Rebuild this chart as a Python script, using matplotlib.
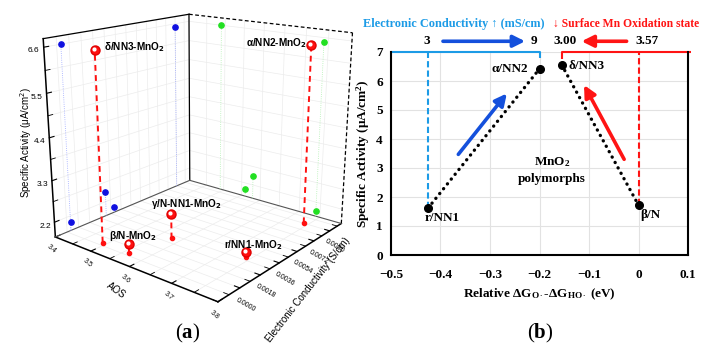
import numpy as np
import matplotlib
matplotlib.use('Agg')
import matplotlib.pyplot as plt
from matplotlib.ticker import AutoMinorLocator, FormatStrFormatter
from matplotlib.transforms import offset_copy

# ---------------- data : panel (a) ----------------
samples_a = ['δ/NN3-MnO$_\\mathbf{2}$', 'α/NN2-MnO$_\\mathbf{2}$', 'γ/N-NN1-MnO$_\\mathbf{2}$',
             'β/N-MnO$_\\mathbf{2}$', 'r/NN1-MnO$_\\mathbf{2}$']
aos = [3.49, 3.74, 3.58, 3.56, 3.74]
conductivity = [-0.0006, 0.0090, 0.0023, -0.0006, 0.0030]
activity_a = [6.60, 6.50, 2.46, 2.02, 1.94]
aos_ticks = [3.4, 3.5, 3.6, 3.7, 3.8]
cond_ticks = [0.0000, 0.0018, 0.0036, 0.0054, 0.0072, 0.0090]
act_ticks = [2.2, 3.3, 4.4, 5.5, 6.6]
aos_lim = (3.4, 3.8)
cond_lim = (-0.0018, 0.0104)
act_lim = (1.8, 6.8)

# ---------------- data : panel (b) ----------------
samples_b = ['r/NN1', 'α/NN2', 'δ/NN3', 'β/N']
dG = [-0.425, -0.200, -0.155, 0.000]
activity_b = [1.62, 6.42, 6.55, 1.72]
top_cond_labels = ['3', '9']          # mS/cm  (r/NN1, α/NN2)
top_ox_labels = ['3.00', '3.57']      # Mn oxidation state (δ/NN3, β/N)
xticks_b = [-0.5, -0.4, -0.3, -0.2, -0.1, 0.0, 0.1]
xticklabels_b = ['\u22120.5', '\u22120.4', '\u22120.3', '\u22120.2', '\u22120.1', '0', '0.1']
yticks_b = [0, 1, 2, 3, 4, 5, 6, 7]

plt.rcParams['mathtext.fontset'] = 'custom'
plt.rcParams['mathtext.rm'] = 'Liberation Serif'
plt.rcParams['mathtext.bf'] = 'Liberation Serif:bold'
plt.rcParams['mathtext.it'] = 'Liberation Serif:italic'

SANS = ['Liberation Sans', 'DejaVu Sans']
SERIF = ['Liberation Serif', 'DejaVu Serif']

fig = plt.figure(figsize=(7.02, 3.58), dpi=100)

# ======================= panel (a) : 3D =======================
ax = fig.add_axes([0.0, 0.115, 0.56, 0.98], projection='3d')
ax.set_proj_type('persp', focal_length=0.4)
ax.view_init(elev=17, azim=-51)
ax.set_box_aspect((1.0, 1.02, 0.97), zoom=1.0)
ax.set_xlim(*aos_lim)
ax.set_ylim(*cond_lim)
ax.set_zlim(*act_lim)

for axis in (ax.xaxis, ax.yaxis, ax.zaxis):
    axis.set_pane_color((1, 1, 1, 1))
    axis.pane.set_edgecolor('none')
    axis.line.set_color('black')
    axis.line.set_linewidth(1.1)
    axis._axinfo['grid'].update(color='#ececec', linewidth=0.5)
    axis._axinfo['tick']['inward_factor'] = 0.0
    axis._axinfo['tick']['outward_factor'] = 0.35
ax.zaxis.set_ticks_position('lower')
ax.zaxis.set_label_position('lower')

ax.set_xticks(aos_ticks)
ax.set_yticks(cond_ticks)
ax.set_zticks(act_ticks)
ax.yaxis.set_major_formatter(FormatStrFormatter('%.4f'))
ax.xaxis.set_major_formatter(FormatStrFormatter('%.1f'))
ax.zaxis.set_major_formatter(FormatStrFormatter('%.1f'))
for axis in (ax.xaxis, ax.yaxis, ax.zaxis):
    axis.set_minor_locator(AutoMinorLocator(2))

ax.tick_params(axis='x', labelsize=5, pad=-5, labelrotation=-40)
ax.tick_params(axis='y', labelsize=5, pad=-4, labelrotation=-30)
ax.tick_params(axis='z', labelsize=6, pad=-4)
ax.tick_params(axis='both', which='minor', labelbottom=False, labelleft=False,
               labeltop=False, labelright=False)
for lab in ax.get_xticklabels() + ax.get_yticklabels() + ax.get_zticklabels():
    lab.set_family(SANS)

ax.zaxis.set_rotate_label(False)
ax.xaxis.set_rotate_label(False)
ax.yaxis.set_rotate_label(False)
ax.set_zlabel('Specific Activity (\u03bcA/cm$^2$)', rotation=90, fontsize=7,
              family=SANS, labelpad=-11)
ax.set_xlabel('AOS', rotation=-35, fontsize=7, family=SANS, labelpad=-10)
ax.set_ylabel('Electronic Conductivity (S/cm)', rotation=52, fontsize=7,
              family=SANS, labelpad=-5)
for lab in (ax.xaxis.label, ax.yaxis.label, ax.zaxis.label):
    lab.set_math_fontfamily('dejavusans')

x0, x1 = aos_lim
y0, y1 = cond_lim
z0, z1 = act_lim
# box edges of the back walls
ax.plot([x0, x0], [y0, y1], [z1, z1], color='black', lw=0.9)
ax.plot([x0, x0], [y1, y1], [z0, z1], color='black', lw=0.9)
ax.plot([x0, x1], [y1, y1], [z1, z1], color='black', lw=0.9, ls=(0, (3, 2)))
ax.plot([x1, x1], [y1, y1], [z0, z1], color='black', lw=0.9, ls=(0, (3, 2)))
ax.plot([x0, x0], [y0, y1], [z0, z0], color='#555555', lw=0.8)
ax.plot([x0, x1], [y1, y1], [z0, z0], color='#555555', lw=0.8)

# projections on the walls
for a, c, s in zip(aos, conductivity, activity_a):
    ax.plot([x0, x0], [c, c], [z0, s], color='#9aa6ff', lw=0.6, ls=':')
    ax.plot([x0], [c], [s], marker='o', ms=3.8, color='#1010e0', mec='#1010e0')
    ax.plot([a, a], [y1, y1], [z0, s], color='#b0f0b0', lw=0.6, ls=':')
    ax.plot([a], [y1], [s], marker='o', ms=3.8, color='#22e022', mec='#22e022')

# 3D points with drop lines
for a, c, s in zip(aos, conductivity, activity_a):
    ax.plot([a, a], [c, c], [z0, s], color='#ff1010', lw=1.4, ls=(0, (3, 2.2)))
    ax.plot([a], [c], [z0], marker='o', ms=3, color='#ff1010', mec='#ff1010')
    ax.plot([a], [c], [s], marker='o', ms=6.5, color='#ff1010', mec='#e00000')
    ax.plot([a], [c], [s], marker='o', ms=2, color='white', mec='white',
            transform=offset_copy(ax.transData, fig=fig, x=-0.8, y=0.9, units='points'))

label_offsets = [(7, 2, 'left'), (-3.5, 1, 'right'), (11, 7, 'center'),
                 (3, 6, 'center'), (5, 5, 'center')]
for a, c, s, name, (dx, dy, ha) in zip(aos, conductivity, activity_a, samples_a, label_offsets):
    t = ax.text(a, c, s, name, ha=ha, va='center', fontsize=7.2, fontweight='bold',
                family=SANS,
                transform=offset_copy(ax.transData, fig=fig, x=dx, y=dy, units='points'))
    t.set_math_fontfamily('dejavusans')

# ======================= panel (b) =======================
BLUE_L = '#1c9be6'
BLUE_D = '#1450dc'
RED = '#ff1414'
axb = fig.add_axes([391 / 702, 1 - 255 / 358, (688 - 391) / 702, (255 - 52) / 358])
xlim_b = (-0.5, 0.1)
ylim_b = (0, 7)
axb.set_xlim(*xlim_b)
axb.set_ylim(*ylim_b)
axb.set_xticks(xticks_b)
axb.set_xticklabels(xticklabels_b)
axb.set_yticks(yticks_b)
axb.grid(True, color='#e2e2e2', lw=0.8)
axb.set_axisbelow(True)
axb.spines['top'].set_visible(False)
for sp in ('left', 'bottom', 'right'):
    axb.spines[sp].set_linewidth(1.5)
axb.tick_params(length=0, labelsize=9.5)
axb.tick_params(axis='x', pad=10)
axb.tick_params(axis='y', pad=6)
for lab in axb.get_xticklabels() + axb.get_yticklabels():
    lab.set_family(SERIF)
    lab.set_fontweight('bold')
axb.set_ylabel('Specific Activity (\u03bcA/cm$^{\\mathbf{2}}$)', fontsize=9.5,
               fontweight='bold', family=SERIF, labelpad=3)
axb.set_xlabel('Relative \u0394G$_{\\mathbf{O}\\bullet}$-\u0394G$_{\\mathbf{HO}\\bullet}$ (eV)',
               fontsize=9.5, fontweight='bold', family=SERIF, labelpad=4)

# top brackets
ytop = ylim_b[1]
axb.plot([xlim_b[0], dG[1], dG[1]], [ytop, ytop, ytop - 0.2], color=BLUE_L, lw=1.5,
         clip_on=False, solid_capstyle='butt')
axb.plot([dG[2], dG[2], xlim_b[1] + 0.006], [ytop - 0.25, ytop, ytop], color=RED, lw=1.5,
         clip_on=False, solid_capstyle='butt')
# vertical dashed guides
axb.plot([dG[0], dG[0]], [activity_b[0], ytop], color=BLUE_L, lw=1.5, ls=(0, (3, 1.5)))
axb.plot([dG[3], dG[3]], [activity_b[3], ytop], color=RED, lw=1.5, ls=(0, (3, 1.5)))

# dotted trends
axb.plot(dG[:2], activity_b[:2], color='black', lw=2.4, ls=(0, (0.05, 1.8)),
         dash_capstyle='round')
axb.plot(dG[2:], activity_b[2:], color='black', lw=2.4, ls=(0, (0.05, 1.8)),
         dash_capstyle='round')
axb.plot(dG, activity_b, 'o', color='black', ms=5.5, ls='none', zorder=5)

# point labels
fs = 9.5
axb.text(dG[0] - 0.008, activity_b[0] - 0.33, samples_b[0], ha='left', va='center',
         fontsize=fs, fontweight='bold', family=SERIF)
axb.text(dG[1] - 0.022, activity_b[1], samples_b[1], ha='right', va='center',
         fontsize=fs, fontweight='bold', family=SERIF)
axb.text(dG[2] + 0.013, activity_b[2] - 0.02, samples_b[2], ha='left', va='center',
         fontsize=fs, fontweight='bold', family=SERIF)
axb.text(dG[3] + 0.003, activity_b[3] - 0.35, samples_b[3], ha='left', va='center',
         fontsize=fs, fontweight='bold', family=SERIF)
axb.text(-0.175, 3.2, 'MnO$_{\\mathbf{2}}$', ha='center', va='center', fontsize=fs,
         fontweight='bold', family=SERIF)
axb.text(-0.175, 2.62, 'polymorphs', ha='center', va='center', fontsize=fs,
         fontweight='bold', family=SERIF)

# arrows in plot
axb.annotate('', xy=(-0.266, 5.57), xytext=(-0.364, 3.47),
             arrowprops=dict(arrowstyle='-|>,head_length=0.7,head_width=0.35',
                             lw=2.6, color=BLUE_D, shrinkA=0, shrinkB=0))
axb.annotate('', xy=(-0.110, 5.86), xytext=(-0.029, 3.30),
             arrowprops=dict(arrowstyle='-|>,head_length=0.7,head_width=0.35',
                             lw=2.6, color=RED, shrinkA=0, shrinkB=0))

# top annotations
ylab = 7.37
axb.annotate('', xy=(-0.229, ylab), xytext=(-0.395, ylab), annotation_clip=False,
             arrowprops=dict(arrowstyle='-|>,head_length=0.7,head_width=0.35',
                             lw=2.6, color=BLUE_D, shrinkA=0, shrinkB=0))
axb.annotate('', xy=(-0.115, ylab), xytext=(-0.024, ylab), annotation_clip=False,
             arrowprops=dict(arrowstyle='-|>,head_length=0.7,head_width=0.35',
                             lw=2.6, color=RED, shrinkA=0, shrinkB=0))
axb.text(dG[0] - 0.002, ylab, top_cond_labels[0], ha='center', va='center', fontsize=fs,
         fontweight='bold', family=SERIF)
axb.text(dG[1] - 0.012, ylab, top_cond_labels[1], ha='center', va='center', fontsize=fs,
         fontweight='bold', family=SERIF)
axb.text(dG[2] + 0.007, ylab, top_ox_labels[0], ha='center', va='center', fontsize=fs,
         fontweight='bold', family=SERIF)
axb.text(dG[3] + 0.018, ylab, top_ox_labels[1], ha='center', va='center', fontsize=fs,
         fontweight='bold', family=SERIF)

fig.text(363 / 702, 1 - 24 / 358, 'Electronic Conductivity \u2191 (mS/cm)', ha='left',
         va='center', fontsize=8.8, fontweight='bold', family=SERIF, color=BLUE_L)
fig.text(553 / 702, 1 - 24 / 358, '\u2193 Surface Mn Oxidation state', ha='left',
         va='center', fontsize=8.4, fontweight='bold', family=SERIF, color=RED)

# panel letters
fig.text(188 / 702, 1 - 333 / 358, '($\\mathbf{a}$)', ha='center', va='center',
         fontsize=15, family=SERIF)
fig.text(540 / 702, 1 - 333 / 358, '($\\mathbf{b}$)', ha='center', va='center',
         fontsize=15, family=SERIF)

fig.savefig('out.png', dpi=100)
